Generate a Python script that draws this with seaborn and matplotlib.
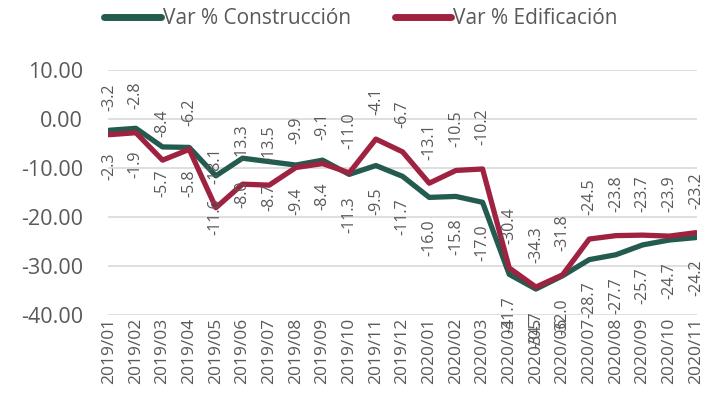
import pandas as pd
import numpy as np
import matplotlib
matplotlib.use("Agg")
import matplotlib.pyplot as plt
import seaborn as sns

sns.set_style("white")
plt.rcParams["font.family"] = ["Open Sans", "DejaVu Sans"]

# -----------------------------
# Data
# -----------------------------
periods = ["2019/01", "2019/02", "2019/03", "2019/04", "2019/05", "2019/06",
           "2019/07", "2019/08", "2019/09", "2019/10", "2019/11", "2019/12",
           "2020/01", "2020/02", "2020/03", "2020/04", "2020/05", "2020/06",
           "2020/07", "2020/08", "2020/09", "2020/10", "2020/11"]
construccion = [-2.3, -1.9, -5.7, -5.8, -11.6, -8.0, -8.7, -9.4, -8.4, -11.3,
                -9.5, -11.7, -16.0, -15.8, -17.0, -31.7, -34.7, -32.0, -28.7,
                -27.7, -25.7, -24.7, -24.2]
edificacion = [-3.2, -2.8, -8.4, -6.2, -18.1, -13.3, -13.5, -9.9, -9.1, -11.0,
               -4.1, -6.7, -13.1, -10.5, -10.2, -30.4, -34.3, -31.8, -24.5,
               -23.8, -23.7, -23.9, -23.2]
series_names = ["Var % Construcción", "Var % Edificación"]
colors = ["#235B4E", "#9F2241"]
text_color = "#595959"

df = pd.DataFrame({
    "idx": list(range(len(periods))) * 2,
    "valor": construccion + edificacion,
    "serie": [series_names[0]] * len(periods) + [series_names[1]] * len(periods),
})

# -----------------------------
# Plot
# -----------------------------
fig = plt.figure(figsize=(7.05, 4.0), dpi=100)
ax = fig.add_axes([0.153, 0.2125, 0.836, 0.6125])

sns.lineplot(data=df, x="idx", y="valor", hue="serie", palette=colors,
             linewidth=3.8, ax=ax, legend=True)

# data labels: green below, red above
for i, v in enumerate(construccion):
    ax.annotate(f"{v:.1f}", (i, v), xytext=(0, -16), textcoords="offset points",
                rotation=90, ha="center", va="top", fontsize=11.5, color=text_color)
for i, v in enumerate(edificacion):
    ax.annotate(f"{v:.1f}", (i, v), xytext=(0, 17), textcoords="offset points",
                rotation=90, ha="center", va="bottom", fontsize=11.5, color=text_color)

ax.set_ylim(-40, 10)
ax.set_yticks(np.arange(-40, 11, 10))
ax.set_yticklabels([f"{t:.2f}" for t in np.arange(-40, 11, 10)])
ax.set_xlim(-0.05, 22.05)
ax.set_xticks(range(len(periods)))
ax.set_xticklabels(periods, rotation=90)
ax.tick_params(axis="both", colors=text_color, length=0)
ax.tick_params(axis="y", labelsize=15.5, pad=18)
ax.tick_params(axis="x", labelsize=12.5, pad=2)
ax.set_xlabel("")
ax.set_ylabel("")
ax.yaxis.grid(True, color="#d9d9d9", linewidth=1.2)
ax.set_axisbelow(True)
for s in ax.spines.values():
    s.set_visible(False)

handles, labels = ax.get_legend_handles_labels()
ax.get_legend().remove()
leg = fig.legend(handles, labels, loc="center", bbox_to_anchor=(0.512, 0.953),
                 ncol=2, frameon=False, fontsize=15, handlelength=2.7,
                 handletextpad=0.1, columnspacing=2.1)
for h in leg.get_lines():
    h.set_linewidth(5)
    h.set_solid_capstyle("round")
for t in leg.get_texts():
    t.set_color(text_color)

fig.savefig("out.png", dpi=100)
